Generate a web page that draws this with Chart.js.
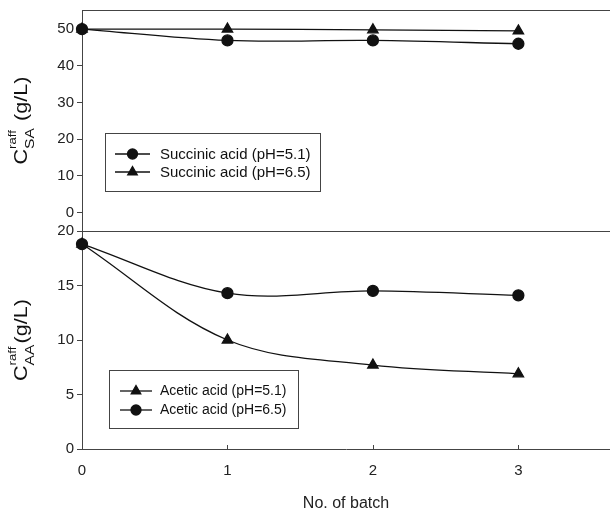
<!DOCTYPE html>
<html>
<head>
<meta charset="utf-8">
<script src="https://cdn.jsdelivr.net/npm/chart.js@4"></script>
<style>
  html, body { margin: 0; background: #fff; }
  #wrap { position: relative; width: 610px; height: 511px; overflow: hidden; background: #fff; }
  #wrap canvas { position: absolute; left: 0; }
  #topChart { top: -10px; }
  #botChart { top: 215px; }
</style>
</head>
<body>
<div id="wrap">
  <canvas id="topChart" width="610" height="260"></canvas>
  <canvas id="botChart" width="610" height="300"></canvas>
</div>
<script>
// batches on the shared x axis
const batches = [0, 1, 2, 3];
const xTicks = [0, 1, 2, 3];

// succinic acid raffinate conc. (g/L)
const saPh51 = [50, 46.9, 46.9, 46.0];
const saPh65 = [50, 50.0, 49.8, 49.5];
const saTicks = [0, 10, 20, 30, 40, 50];

// acetic acid raffinate conc. (g/L)
const aaPh51 = [18.8, 10.0, 7.7, 6.9];
const aaPh65 = [18.8, 14.3, 14.5, 14.1];
const aaTicks = [0, 5, 10, 15, 20];

const FONT = '"Liberation Sans", Arial, sans-serif';
const INK = '#111';
const AXIS = '#444';

const pts = (ys) => batches.map((x, i) => ({ x, y: ys[i] }));

function series(label, ys, style) {
  return {
    label,
    data: pts(ys),
    borderColor: INK,
    backgroundColor: INK,
    borderWidth: 1.3,
    tension: 0.35,
    pointStyle: style,
    pointRadius: style === 'triangle' ? 6 : 5.5,
    pointHoverRadius: 5.5,
    clip: false,
  };
}

// frame lines, y title with super/subscript, boxed legend
const panelDecor = {
  id: 'panelDecor',
  afterDraw(chart, args, opts) {
    const { ctx, chartArea: a } = chart;
    ctx.save();
    ctx.strokeStyle = AXIS;
    ctx.lineWidth = 1;
    ctx.beginPath();
    ctx.moveTo(a.left, a.top + 0.5);
    ctx.lineTo(a.right, a.top + 0.5);
    if (opts.bottomLine) {
      ctx.moveTo(a.left, a.bottom + 0.5);
      ctx.lineTo(a.right, a.bottom + 0.5);
    }
    ctx.stroke();

    if (opts.xTickMarks) {
      const xs = chart.scales.x;
      ctx.beginPath();
      xTicks.slice(1).forEach((v) => {
        const px = Math.round(xs.getPixelForValue(v)) + 0.5;
        ctx.moveTo(px, a.bottom);
        ctx.lineTo(px, a.bottom - 4);
      });
      ctx.stroke();
    }

    // y title, slightly stretched along its run like the original
    const t = opts.title;
    ctx.translate(t.x, (a.top + a.bottom) / 2 + t.dy);
    ctx.rotate(-Math.PI / 2);
    ctx.scale(1.2, 1);
    ctx.fillStyle = INK;
    ctx.textBaseline = 'middle';
    ctx.font = `18px ${FONT}`;
    const wC = ctx.measureText('C').width;
    ctx.font = `11px ${FONT}`;
    const wSup = ctx.measureText('raff').width;
    ctx.font = `13px ${FONT}`;
    const wSub = ctx.measureText(t.sub).width;
    ctx.font = `18px ${FONT}`;
    const wRest = ctx.measureText(t.rest).width;
    const total = wC + Math.max(wSup, wSub) + 1 + wRest;
    let cx = -total / 2;
    ctx.textAlign = 'left';
    ctx.fillText('C', cx, 0);
    cx += wC;
    ctx.font = `11px ${FONT}`;
    ctx.fillText('raff', cx, -9);
    ctx.font = `13px ${FONT}`;
    ctx.fillText(t.sub, cx, 8);
    cx += Math.max(wSup, wSub) + 1;
    ctx.font = `18px ${FONT}`;
    ctx.fillText(t.rest, cx, 0);
    ctx.setTransform(1, 0, 0, 1, 0, 0);

    // legend box
    const lg = opts.legend;
    ctx.strokeStyle = AXIS;
    ctx.lineWidth = 1;
    ctx.strokeRect(lg.x + 0.5, lg.y + 0.5, lg.w, lg.h);
    ctx.font = `${lg.size}px ${FONT}`;
    ctx.textAlign = 'left';
    ctx.textBaseline = 'middle';
    lg.items.forEach((it, i) => {
      const y = lg.y + lg.first + i * lg.gap;
      ctx.strokeStyle = INK;
      ctx.lineWidth = 1.3;
      ctx.beginPath();
      ctx.moveTo(lg.lineFrom, y);
      ctx.lineTo(lg.lineTo, y);
      ctx.stroke();
      ctx.fillStyle = INK;
      Chart.helpers.drawPoint(ctx, {
        pointStyle: it.style,
        radius: it.style === 'triangle' ? 5.5 : 5,
        rotation: 0,
        borderWidth: 1,
      }, (lg.lineFrom + lg.lineTo) / 2, y);
      ctx.fillStyle = INK;
      ctx.fillText(it.label, lg.textX, y + 0.5);
    });
    ctx.restore();
  },
};

function yScale(min, max, ticks) {
  return {
    type: 'linear',
    position: 'left',
    min,
    max,
    afterBuildTicks: (s) => { s.ticks = ticks.map((v) => ({ value: v })); },
    afterFit: (s) => { s.width = 82; },
    ticks: { color: '#222', font: { family: FONT, size: 15 }, padding: 3 },
    grid: { drawOnChartArea: false, drawTicks: true, tickLength: 5, color: AXIS },
    border: { display: true, color: AXIS, width: 1 },
  };
}

const xRange = { min: 0, max: 3.63 };

// top canvas sits 10px above the page, so its coordinates are page y + 10
new Chart(document.getElementById('topChart'), {
  type: 'line',
  data: {
    datasets: [
      series('Succinic acid (pH=5.1)', saPh51, 'circle'),
      series('Succinic acid (pH=6.5)', saPh65, 'triangle'),
    ],
  },
  options: {
    responsive: false,
    animation: false,
    layout: { autoPadding: false, padding: { top: 20, bottom: 19, left: 0, right: 0 } },
    plugins: {
      legend: { display: false },
      tooltip: { enabled: false },
      panelDecor: {
        bottomLine: true,
        title: { x: 22, dy: 0, sub: 'SA', rest: ' (g/L)' },
        legend: {
          x: 105, y: 143, w: 215, h: 58, first: 21, gap: 18, size: 15,
          lineFrom: 115, lineTo: 150, textX: 160,
          items: [
            { label: 'Succinic acid (pH=5.1)', style: 'circle' },
            { label: 'Succinic acid (pH=6.5)', style: 'triangle' },
          ],
        },
      },
    },
    scales: {
      x: { type: 'linear', ...xRange, display: false },
      y: yScale(-5, 55.2, saTicks),
    },
  },
  plugins: [panelDecor],
});

new Chart(document.getElementById('botChart'), {
  type: 'line',
  data: {
    datasets: [
      series('Acetic acid (pH=5.1)', aaPh51, 'triangle'),
      series('Acetic acid (pH=6.5)', aaPh65, 'circle'),
    ],
  },
  options: {
    responsive: false,
    animation: false,
    layout: { autoPadding: false, padding: { top: 16, bottom: 2, left: 0, right: 0 } },
    plugins: {
      legend: { display: false },
      tooltip: { enabled: false },
      panelDecor: {
        bottomLine: false,
        xTickMarks: true,
        title: { x: 22, dy: 0, sub: 'AA', rest: '(g/L)' },
        legend: {
          x: 109, y: 155, w: 189, h: 58, first: 21, gap: 19, size: 14,
          lineFrom: 120, lineTo: 152, textX: 160,
          items: [
            { label: 'Acetic acid (pH=5.1)', style: 'triangle' },
            { label: 'Acetic acid (pH=6.5)', style: 'circle' },
          ],
        },
      },
    },
    scales: {
      x: {
        type: 'linear',
        ...xRange,
        afterBuildTicks: (s) => { s.ticks = xTicks.map((v) => ({ value: v })); },
        afterFit: (s) => { s.height = 64; },
        ticks: { color: '#222', font: { family: FONT, size: 15 }, padding: 13 },
        grid: { drawOnChartArea: false, drawTicks: false },
        border: { display: true, color: AXIS, width: 1 },
        title: {
          display: true,
          text: 'No. of batch',
          color: '#222',
          font: { family: FONT, size: 16 },
          padding: { top: 0, bottom: 0 },
        },
      },
      y: yScale(0, 20, aaTicks),
    },
  },
  plugins: [panelDecor],
});
</script>
</body>
</html>
